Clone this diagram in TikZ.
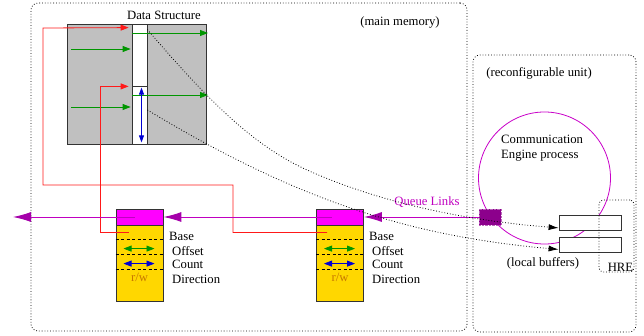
\documentclass[tikz,border=0pt]{standalone}
\usepackage{fontspec}
\setmainfont{Liberation Serif}
\usetikzlibrary{shapes, arrows, arrows.meta, positioning}

\definecolor{dsgray}{RGB}{192,192,192}
\definecolor{qmag}{RGB}{255,0,255}
\definecolor{qline}{RGB}{192,0,192}
\definecolor{qtip}{RGB}{165,0,170}
\definecolor{qport}{RGB}{140,0,140}
\definecolor{qgold}{RGB}{255,215,0}
\definecolor{rwcol}{RGB}{200,120,0}
\definecolor{cemag}{RGB}{200,0,200}
\definecolor{redptr}{RGB}{255,25,25}
\definecolor{greenptr}{RGB}{0,150,0}
\definecolor{blueptr}{RGB}{0,0,210}

\tikzstyle{area}       = [draw, dotted, line width=0.8pt, rounded corners=7pt, inner sep=0pt]
\tikzstyle{lbl}        = [inner sep=0pt, font=\fontsize{12.7}{15}\selectfont]
\tikzstyle{blk}        = [draw=black!80, line width=0.8pt, inner sep=0pt]
\tikzstyle{base ptr}   = [color=redptr, line width=0.8pt, -{Triangle[length=8pt, width=6pt]}]
\tikzstyle{offset ptr} = [color=greenptr, line width=0.8pt, -{Triangle[length=8pt, width=6pt]}]
\tikzstyle{count ptr}  = [color=blueptr, line width=0.8pt, {Triangle[length=7pt, width=5pt]}-{Triangle[length=7pt, width=5pt]}]
\tikzstyle{both ends}  = [{Triangle[length=8pt, width=6pt]}-{Triangle[length=8pt, width=6pt]}]
\tikzstyle{fieldsep}   = [draw, line width=0.7pt, dash pattern=on 3pt off 2.5pt]
\tikzstyle{qlink}      = [color=qline, line width=0.9pt, -{Latex[length=18pt, width=10pt, color=qtip]}]
\tikzstyle{fetch}      = [draw, dotted, line width=0.8pt, -{Latex[length=10pt, width=6pt]}]

\begin{document}
\begin{tikzpicture}[x=1pt, y=-1pt]
\useasboundingbox (0,0) rectangle (644,336);

% regions
\node [area, minimum width=436pt, minimum height=328pt] at (249  , 167  ) (mem)  {};
\node [area, minimum width=163pt, minimum height=277pt] at (554.5, 193.5) (unit) {};
\node [lbl]                                              at (400  ,  22  ) (memlbl)  {(main memory)};
\node [lbl]                                              at (539  ,  73  ) (unitlbl) {(reconfigurable unit)};

% data structure
\node [blk, fill=dsgray, minimum width=139pt, minimum height=120pt] at (136.5,  84) (ds)     {};
\node [blk, fill=white,  minimum width=15pt,  minimum height=62pt]  at (139.5,  55) (colup)  {};
\node [blk, fill=white,  minimum width=15pt,  minimum height=58pt]  at (139.5, 115) (collow) {};
\node [lbl]                                                          at (164  ,  15) (dslbl)  {Data Structure};

\coordinate (g1) at ( 71,  49);
\coordinate (g2) at ( 71, 107);
\coordinate (g3) at (208,  33);
\coordinate (g4) at (208,  95);

\path [offset ptr]
  (g1)               edge ([xshift=-1pt]colup.west |- g1)
  (g2)               edge ([xshift=-1pt]colup.west |- g2)
  (colup.west |- g3) edge (g3)
  (colup.west |- g4) edge (g4);
\path [count ptr]
  ([xshift=2pt, yshift=-2pt]collow.north) edge ([xshift=2pt, yshift=2pt]collow.south);

% communication engine
\node [draw=cemag, line width=0.8pt, circle, minimum size=132pt, inner sep=0pt] at (544.5, 178) (ce) {};
\node [lbl, align=left, anchor=west] at (501, 148.5) (celbl) {Communication\\Engine process};

\node [blk, fill=white, minimum width=62pt, minimum height=15pt] at (590, 222.5) (bufa) {};
\node [blk, fill=white, minimum width=62pt, minimum height=15pt] at (590, 244.5) (bufb) {};
\node [lbl]                                                       at (543, 263  ) (buflbl) {(local buffers)};

\node [area, rounded corners=4pt, minimum width=35pt, minimum height=72pt] at (616.5, 236) (hre) {};
\node [lbl, anchor=south east] at ([xshift=-1pt, yshift=1pt]hre.south east) (hrelbl) {HRE};

% queue records
\node [blk, fill=qmag,  minimum width=47pt, minimum height=16pt] at (139.5, 217) (qatop)  {};
\node [blk, fill=qgold, minimum width=47pt, minimum height=76pt] at (139.5, 263) (qabody) {};
\node [blk, fill=qmag,  minimum width=47pt, minimum height=16pt] at (340  , 217) (qbtop)  {};
\node [blk, fill=qgold, minimum width=47pt, minimum height=76pt] at (340  , 263) (qbbody) {};

\draw [fieldsep] ([yshift=-15pt]qabody.north west) -- ([yshift=-15pt]qabody.north east);
\draw [fieldsep] ([yshift=-30pt]qabody.north west) -- ([yshift=-30pt]qabody.north east);
\draw [fieldsep] ([yshift=-45pt]qabody.north west) -- ([yshift=-45pt]qabody.north east);
\draw [fieldsep] ([yshift=-15pt]qbbody.north west) -- ([yshift=-15pt]qbbody.north east);
\draw [fieldsep] ([yshift=-30pt]qbbody.north west) -- ([yshift=-30pt]qbbody.north east);
\draw [fieldsep] ([yshift=-45pt]qbbody.north west) -- ([yshift=-45pt]qbbody.north east);

\path [offset ptr, both ends]
  ([xshift=-16pt, yshift=-24pt]qabody.north) edge ([xshift=15pt, yshift=-24pt]qabody.north)
  ([xshift=-16pt, yshift=-24pt]qbbody.north) edge ([xshift=15pt, yshift=-24pt]qbbody.north);
\path [count ptr, both ends]
  ([xshift=-16pt, yshift=-39pt]qabody.north) edge ([xshift=15pt, yshift=-39pt]qabody.north)
  ([xshift=-16pt, yshift=-39pt]qbbody.north) edge ([xshift=15pt, yshift=-39pt]qbbody.north);

\node [lbl, text=rwcol] at (139.5, 277) (qarw) {r/w};
\node [lbl, text=rwcol] at (340  , 277) (qbrw) {r/w};

\node [lbl, anchor=west] at (169, 236) (qabase) {Base};
\node [lbl, anchor=west] at (172, 251) (qaoff)  {Offset};
\node [lbl, anchor=west] at (172, 264) (qacnt)  {Count};
\node [lbl, anchor=west] at (172, 279) (qadir)  {Direction};
\node [lbl, anchor=west] at (369, 236) (qbbase) {Base};
\node [lbl, anchor=west] at (372, 251) (qboff)  {Offset};
\node [lbl, anchor=west] at (372, 264) (qbcnt)  {Count};
\node [lbl, anchor=west] at (372, 279) (qbdir)  {Direction};

% base pointers
\coordinate (rb1) at (233, 185);
\coordinate (rb2) at ( 43,  28);
\draw [base ptr] ([xshift=-13pt, yshift=-8pt]qbbody.north) -| (rb1) -| (rb2) -- ([xshift=-3pt, yshift=-4pt]colup.north west);
\draw [base ptr] ([xshift=-11pt, yshift=-8pt]qabody.north) -| ([xshift=-31pt]colup.south west) -- ([xshift=-3pt]colup.south west);

% queue links
\node [fill=qport, draw=qport!60, densely dotted, minimum width=22pt, minimum height=16pt, inner sep=0pt] at (490, 217) (port) {};
\node [lbl, text=qline] at (427, 202) (qlinks) {Queue Links};
\coordinate (qexit) at (13, 217);

\path [qlink]
  (port.west)                   edge (qbtop.east)
  ([xshift=-8pt]qbtop.center)   edge (qatop.east)
  ([xshift=-4.5pt]qatop.center) edge (qexit);

% buffer fetches
\draw [fetch] ([yshift=-6pt]colup.north east) .. controls (207,99) and (252,145) .. (307,170)
                                               .. controls (387,206) and (478,221.6) .. ([yshift=2.5pt]bufa.south west);
\draw [fetch] ([yshift=5pt]collow.east) .. controls (297,200) and (408,236) .. ([yshift=3pt]bufb.south west);

\end{tikzpicture}
\end{document}
